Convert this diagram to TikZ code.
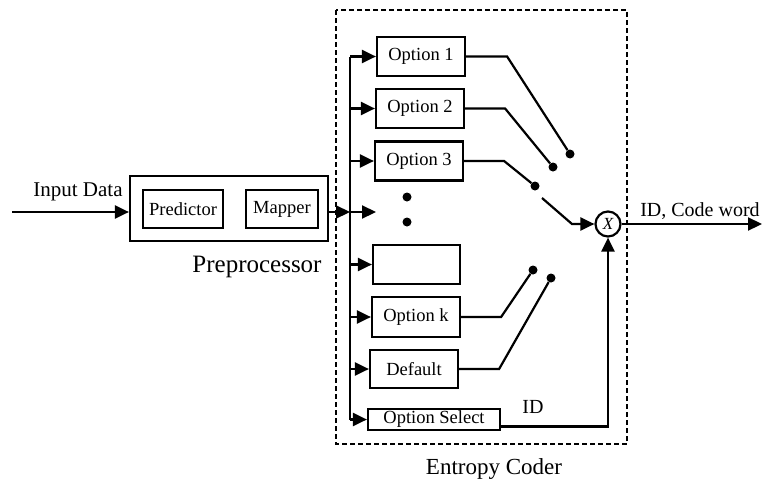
\documentclass[tikz,border=0pt]{standalone}
\usepackage{fontspec}
\setmainfont{Liberation Serif}
\usetikzlibrary{arrows.meta}

\begin{document}
\begin{tikzpicture}[x=1pt,y=-1pt,
    caja/.style={draw, line width=2.2pt, inner sep=0pt, font=\fontsize{18.5}{18}\selectfont},
    linea/.style={line width=2.2pt},
    flecha/.style={line width=2.2pt, -{Triangle[length=14pt,width=13pt]}},
    punto/.style={circle, fill, inner sep=0pt, minimum size=9pt}]

\useasboundingbox (0,0) rectangle (768,490);

%preprocesador
\node[caja, minimum width=198, minimum height=65] (pre) at (229,208.5) {};
\node[caja, minimum width=80, minimum height=38] (pred) at (183,209) {Predictor};
\node[caja, minimum width=72, minimum height=38] (map) at (282,209) {Mapper};
\coordinate (ent) at (12,212);
\draw[flecha] (ent) -- (ent -| pre.west);
\node[font=\fontsize{21}{21}\selectfont] (lblent) at (78,192) {Input Data};
\node[font=\fontsize{25}{25}\selectfont] (lblpre) at (257,267) {Preprocessor};

%codificador de entropia
\draw[line width=2.4pt, dash pattern=on 5pt off 3pt] (336,10) rectangle (627,444);
\node[font=\fontsize{23}{23}\selectfont] (lblcod) at (494,469) {Entropy Coder};

\node[caja, minimum width=88, minimum height=39] (o1) at (421,56.5) {Option 1};
\node[caja, minimum width=88, minimum height=39] (o2) at (420,108.5) {Option 2};
\node[caja, minimum width=88, minimum height=39] (o3) at (419,161) {Option 3};
\node[caja, minimum width=87, minimum height=39] (ovac) at (416.5,264.5) {};
\node[caja, minimum width=88, minimum height=40] (ok) at (416,317) {Option k};
\node[caja, minimum width=88, minimum height=38] (def) at (414,369) {Default};
\node[caja, minimum width=132, minimum height=21] (sel) at (434,419.5) {Option Select};
\node[punto] (d1) at (407,197) {};
\node[punto] (d2) at (407,222) {};

%bus de entrada
\coordinate (bus) at (350,212);
\coordinate (hueco) at (376,212);
\draw[flecha] (pre.east |- bus) -- (bus);
\draw[linea] (bus |- o1.west) -- (bus |- sel.west);
\foreach \b in {o1,o2,o3,ovac,ok,def,sel}
    \draw[flecha] (bus |- \b.west) -- (\b.west);
\draw[flecha] (bus) -- (hueco);

%conmutador
\node[punto] (p1) at (570,154) {};
\node[punto] (p2) at (553,167) {};
\node[punto] (p3) at (535,186) {};
\node[punto] (pk) at (533,270) {};
\node[punto] (pd) at (551,278) {};
\draw[linea] (o1.east) -- ++(41,0) -- (p1);
\draw[linea] (o2.east) -- ++(40,0) -- (p2);
\draw[linea] (o3.east) -- ++(40,0) -- (p3);
\draw[linea] (ok.east) -- ++(40,0) -- (pk);
\draw[linea] (def.east) -- ++(40,0) -- (pd);

\node[draw, circle, line width=2.2pt, minimum size=25pt, inner sep=0pt,
      font=\fontsize{17}{17}\selectfont\itshape] (mult) at (608,224) {X};
\coordinate (pala) at (542,198);
\draw[flecha] (pala) -- (572,224) -- (mult.west);
\draw[flecha] ([yshift=-7pt]sel.east) -| (mult.south);
\node[font=\fontsize{20}{20}\selectfont] (lblid) at (533,407) {ID};

%salida
\coordinate (sal) at (762,224);
\draw[flecha] (mult.east) -- (sal);
\node[font=\fontsize{20}{20}\selectfont] (lblsal) at (700,211) {ID, Code word};

\end{tikzpicture}
\end{document}
